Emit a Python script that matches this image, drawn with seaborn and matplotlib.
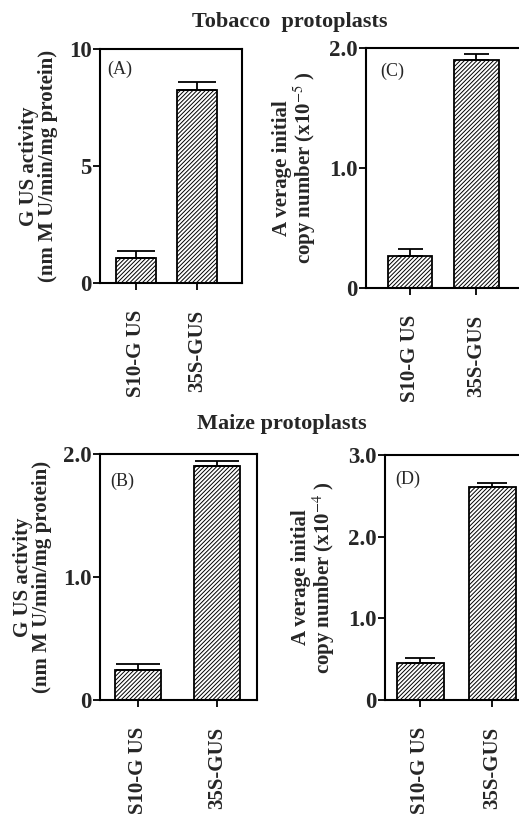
import matplotlib
matplotlib.use("Agg")
import matplotlib.pyplot as plt
import pandas as pd
import seaborn as sns

sns.set_theme(style="ticks")
plt.rcParams['font.family'] = ['Liberation Serif', 'DejaVu Serif']
plt.rcParams['mathtext.fontset'] = 'stix'
plt.rcParams['hatch.linewidth'] = 0.7

constructs = ["S10-G US", "35S-GUS"]

# panel values (mean, upper error)
tob_gus = [1.07, 8.25]
tob_gus_err = [0.30, 0.35]
tob_copy = [0.27, 1.90]
tob_copy_err = [0.055, 0.05]
maize_gus = [0.245, 1.90]
maize_gus_err = [0.045, 0.045]
maize_copy = [0.45, 2.61]
maize_copy_err = [0.06, 0.05]

W, H = 519, 817
fig = plt.figure(figsize=(W / 100, H / 100), dpi=100)


def make_axes(l, r, t, b):
    return fig.add_axes([l / W, 1 - b / H, (r - l) / W, (b - t) / H])


panels = [
    # values, errors, box px, xlim, ylim, ticks, ticklabels, ylabel, letter, letter pos, capsize, width
    (tob_gus, tob_gus_err, (100, 242, 49, 283), (-0.59, 1.74), 10, [0, 5, 10], ["0", "5", "10"],
     "G US activity\n(nm M U/min/mg protein)", "(A)", (0.05, 0.95), 14, 0.65),
    (tob_copy, tob_copy_err, (366, 526, 48, 288), (-0.67, 1.75), 2, [0, 1, 2], ["0", "1.0", "2.0"],
     "A verage initial\ncopy number (x10$^{-5}$ )", "(C)", (0.09, 0.94), 9, 0.67),
    (maize_gus, maize_gus_err, (100, 257, 454, 700), (-0.48, 1.51), 2, [0, 1, 2], ["0", "1.0", "2.0"],
     "G US activity\n(nm M U/min/mg protein)", "(B)", (0.065, 0.925), 16, 0.58),
    (maize_copy, maize_copy_err, (385, 543, 455, 700), (-0.49, 1.7), 3, [0, 1, 2, 3],
     ["0", "1.0", "2.0", "3.0"],
     "A verage initial\ncopy number (x10$^{-4}$ )", "(D)", (0.065, 0.935), 11, 0.65),
]

for vals, errs, box, xlim, ytop, ticks, tlabels, ylab, letter, lpos, cap, bw in panels:
    ax = make_axes(*box)
    df = pd.DataFrame({"construct": constructs, "value": vals})
    sns.barplot(data=df, x="construct", y="value", ax=ax, color="white",
                edgecolor="black", linewidth=1.3, width=bw, hatch="////////",
                errorbar=None, zorder=2)
    ax.errorbar(range(len(vals)), vals, yerr=[[0] * len(vals), errs], fmt="none",
                ecolor="black", elinewidth=1.3, capsize=cap, capthick=1.3, zorder=3)
    ax.set_xlim(*xlim)
    ax.set_ylim(0, ytop)
    ax.set_yticks(ticks)
    ax.set_yticklabels(tlabels, fontsize=16.5, fontweight="bold")
    ax.set_xticks(range(len(constructs)))
    ax.set_xticklabels(constructs, rotation=90, fontsize=15, fontweight="bold")
    ax.set_xlabel("")
    ax.set_ylabel(ylab, fontsize=15, fontweight="bold", linespacing=0.95, labelpad=8)
    ax.tick_params(axis="both", direction="out", length=5, width=1.3, color="black", pad=1)
    ax.tick_params(axis="x", pad=14)
    for s in ax.spines.values():
        s.set_linewidth(1.5)
        s.set_color("black")
        s.set_visible(True)
    ax.text(lpos[0], lpos[1], letter, transform=ax.transAxes, fontsize=13,
            ha="left", va="top")

fig.text(290 / W, 1 - 22 / H, "Tobacco  protoplasts", fontsize=16, fontweight="bold",
         ha="center", va="center")
fig.text(282 / W, 1 - 424 / H, "Maize protoplasts", fontsize=16, fontweight="bold",
         ha="center", va="center")

fig.savefig("out.png", dpi=100, facecolor="white")
